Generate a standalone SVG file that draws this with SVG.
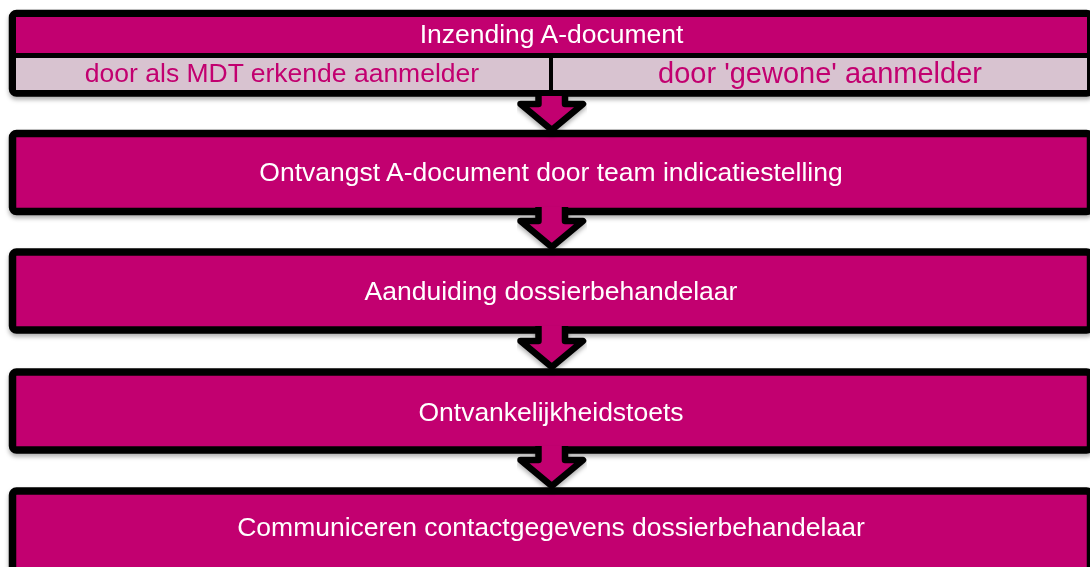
<svg xmlns="http://www.w3.org/2000/svg" width="1090" height="567" viewBox="0 0 1090 567">
  <defs>
    <filter id="sh" x="-5%" y="-20%" width="110%" height="150%">
      <feDropShadow dx="0" dy="3" stdDeviation="2" flood-color="#000" flood-opacity="0.3"/>
    </filter>
    <style>
      .box { fill: #C2006F; stroke: #000; stroke-width: 7.5; }
      .t { font-family: "Liberation Sans", Arial, sans-serif; fill: #fff; text-anchor: middle; font-size: 26.5px; }
      .sub { font-family: "Liberation Sans", Arial, sans-serif; fill: #C2006F; text-anchor: middle; }
      .af { fill: #C2006F; stroke: none; }
      .as { fill: none; stroke: #000; stroke-width: 6.5; stroke-linejoin: round; stroke-linecap: butt; }
    </style>
  </defs>
  <rect width="1090" height="567" fill="#fff"/>

  <g id="node1" filter="url(#sh)">
    <rect x="12.5" y="13.5" width="1078" height="79.5" rx="4" fill="#000" stroke="#000" stroke-width="7.5"/>
    <rect x="16" y="17" width="1071" height="36" fill="#C2006F"/>
    <rect x="16" y="58" width="533" height="32" fill="#D8C3D0"/>
    <rect x="553" y="58" width="534" height="32" fill="#D8C3D0"/>
    <text class="t" x="551.5" y="43">Inzending A-document</text>
    <text class="sub" x="282" y="82" font-size="26.5">door als MDT erkende aanmelder</text>
    <text class="sub" x="820" y="83" font-size="29">door 'gewone' aanmelder</text>
  </g>

  <g id="node2" filter="url(#sh)">
    <rect class="box" x="12.5" y="133.5" width="1078" height="78" rx="4"/>
    <text class="t" x="551" y="181">Ontvangst A-document door team indicatiestelling</text>
  </g>

  <g id="node3" filter="url(#sh)">
    <rect class="box" x="12.5" y="252" width="1078" height="78" rx="4"/>
    <text class="t" x="551" y="300">Aanduiding dossierbehandelaar</text>
  </g>

  <g id="node4" filter="url(#sh)">
    <rect class="box" x="12.5" y="372" width="1078" height="78" rx="4"/>
    <text class="t" x="551" y="421">Ontvankelijkheidstoets</text>
  </g>

  <g id="node5" filter="url(#sh)">
    <rect class="box" x="12.5" y="491" width="1078" height="90" rx="4"/>
    <text class="t" x="551" y="536">Communiceren contactgegevens dossierbehandelaar</text>
  </g>

  <g id="connectors" filter="url(#sh)">
    <g>
      <polygon class="af" points="538.5,96 565,96 565,104 583,104 551.75,130 520.5,104 538.5,104"/>
      <path class="as" d="M538.5,96 V104 H520.5 L551.75,130 L583,104 H565 V96"/>
    </g>
    <g>
      <polygon class="af" points="538.5,207 565,207 565,221 583,221 551.75,247 520.5,221 538.5,221"/>
      <path class="as" d="M538.5,207 V221 H520.5 L551.75,247 L583,221 H565 V207"/>
    </g>
    <g>
      <polygon class="af" points="538.5,326 565,326 565,341 583,341 551.75,367 520.5,341 538.5,341"/>
      <path class="as" d="M538.5,326 V341 H520.5 L551.75,367 L583,341 H565 V326"/>
    </g>
    <g>
      <polygon class="af" points="538.5,446 565,446 565,460 583,460 551.75,486 520.5,460 538.5,460"/>
      <path class="as" d="M538.5,446 V460 H520.5 L551.75,486 L583,460 H565 V446"/>
    </g>
  </g>
</svg>
